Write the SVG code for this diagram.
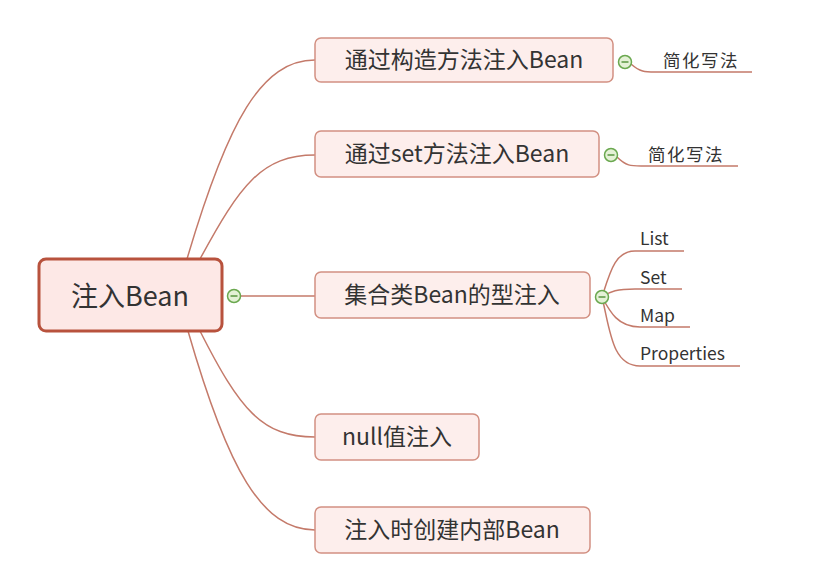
<svg xmlns="http://www.w3.org/2000/svg" width="834" height="568" viewBox="0 0 834 568">
<style>
.node{fill:#fdeeec;stroke:#d29082;stroke-width:1.5}
.root{fill:#fde8e6;stroke:#b8523d;stroke-width:3}
.t{font-family:"Noto Sans CJK SC","Liberation Sans",sans-serif;fill:#333}
.m{font-size:23px;text-anchor:middle}
.s{font-size:17.5px}
.c{fill:none;stroke:#c47a6a;stroke-width:1.5}
.tog circle{fill:#e4f1d6;stroke:#6aa84f;stroke-width:1.5}
.tog line{stroke:#5a9640;stroke-width:1.5}
</style>
<rect width="834" height="568" fill="#fff"/>
<g id="connectors">
<path class="c" d="M187,259 C228,120 262,60 315,60"/>
<path class="c" d="M200,259 C240,185 262,155 315,155"/>
<path class="c" d="M240,296 L315,296"/>
<path class="c" d="M200,331 C240,410 262,437 315,437"/>
<path class="c" d="M188,331 C228,470 262,530 315,530"/>
<path class="c" d="M631,64 C640,72 645,72 655,72 L752,72"/>
<path class="c" d="M617,157 C626,166 631,166 641,166 L738,166"/>
<path class="c" d="M602,297 C610,272 615,251 635,251 L684,251"/>
<path class="c" d="M602,297 C610,291 618,289 635,289 L682,289"/>
<path class="c" d="M602,297 C610,312 618,327 640,327 L690,327"/>
<path class="c" d="M602,297 C610,330 612,366 640,366 L740,366"/>
</g>
<g id="root">
<rect class="root" x="39" y="259" width="183" height="72" rx="7"/>
<text class="t" x="130" y="306" font-size="27" text-anchor="middle">注入Bean</text>
</g>
<g id="n1">
<rect class="node" x="315" y="38" width="298" height="44" rx="6"/>
<text class="t m" x="464" y="68">通过构造方法注入Bean</text>
</g>
<g id="n2">
<rect class="node" x="315" y="131" width="284" height="46" rx="6"/>
<text class="t m" x="457" y="162">通过set方法注入Bean</text>
</g>
<g id="n3">
<rect class="node" x="315" y="272" width="275" height="46" rx="6"/>
<text class="t m" x="452" y="303">集合类Bean的型注入</text>
</g>
<g id="n4">
<rect class="node" x="315" y="414" width="164" height="46" rx="6"/>
<text class="t m" x="397" y="445">null值注入</text>
</g>
<g id="n5">
<rect class="node" x="315" y="507" width="275" height="46" rx="6"/>
<text class="t m" x="452" y="538">注入时创建内部Bean</text>
</g>
<g id="s1"><text class="t s" x="663" y="67" letter-spacing="1.5">简化写法</text></g>
<g id="s2"><text class="t s" x="648" y="161" letter-spacing="1.5">简化写法</text></g>
<g id="s3"><text class="t s" x="640" y="245">List</text></g>
<g id="s4"><text class="t s" x="640" y="284">Set</text></g>
<g id="s5"><text class="t s" x="640" y="322">Map</text></g>
<g id="s6"><text class="t s" x="640" y="360">Properties</text></g>
<g class="tog" id="toggles">
<circle cx="234" cy="296" r="6.5"/><line x1="230.5" y1="296" x2="237.5" y2="296"/>
<circle cx="625" cy="62" r="6.5"/><line x1="621.5" y1="62" x2="628.5" y2="62"/>
<circle cx="611" cy="155" r="6.5"/><line x1="607.5" y1="155" x2="614.5" y2="155"/>
<circle cx="602" cy="297" r="6.5"/><line x1="598.5" y1="297" x2="605.5" y2="297"/>
</g>
</svg>
